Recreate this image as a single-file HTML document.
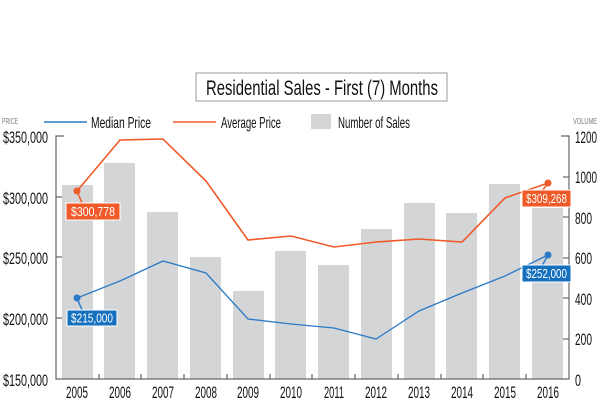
<!DOCTYPE html>
<html><head><style>
body{margin:0;background:#fff;}
svg text{font-family:"Liberation Sans",sans-serif;}
</style></head><body>
<svg width="600" height="400" viewBox="0 0 600 400" xmlns="http://www.w3.org/2000/svg">
<rect x="196" y="73" width="251" height="28" fill="#fff" stroke="#999" stroke-width="1"/>
<text x="206" y="95" font-size="21" fill="#111" textLength="232" lengthAdjust="spacingAndGlyphs">Residential Sales - First (7) Months</text>
<text x="2" y="124" font-size="8" fill="#777" textLength="16" lengthAdjust="spacingAndGlyphs">PRICE</text>
<text x="573" y="124" font-size="8" fill="#777" textLength="24" lengthAdjust="spacingAndGlyphs">VOLUME</text>
<line x1="44" y1="122" x2="87" y2="122" stroke="#2b7bc6" stroke-width="1.5"/>
<text x="91" y="128" font-size="16" fill="#111" textLength="60" lengthAdjust="spacingAndGlyphs">Median Price</text>
<line x1="173" y1="122" x2="216" y2="122" stroke="#f05a28" stroke-width="1.5"/>
<text x="221" y="128" font-size="16" fill="#111" textLength="60" lengthAdjust="spacingAndGlyphs">Average Price</text>
<rect x="311" y="114" width="20" height="15" fill="#d4d5d7"/>
<text x="338" y="128" font-size="16" fill="#111" textLength="72" lengthAdjust="spacingAndGlyphs">Number of Sales</text>
<g fill="#d4d5d7">
<rect x="62" y="185" width="31" height="194"/>
<rect x="104" y="163" width="31" height="216"/>
<rect x="147" y="212" width="31" height="167"/>
<rect x="190" y="257" width="31" height="122"/>
<rect x="233" y="291" width="31" height="88"/>
<rect x="275" y="251" width="31" height="128"/>
<rect x="318" y="265" width="31" height="114"/>
<rect x="361" y="229" width="31" height="150"/>
<rect x="404" y="203" width="31" height="176"/>
<rect x="446" y="213" width="31" height="166"/>
<rect x="489" y="184" width="31" height="195"/>
<rect x="532" y="208" width="31" height="171"/>
</g>
<g stroke="#666" stroke-width="1.2" fill="none">
<polyline points="64,136 56,136 56,379 569,379 569,136 561,136"/>
<line x1="56" y1="197" x2="62" y2="197"/><line x1="56" y1="257" x2="62" y2="257"/><line x1="56" y1="318" x2="62" y2="318"/>
<line x1="563" y1="177" x2="569" y2="177"/><line x1="563" y1="217" x2="569" y2="217"/><line x1="563" y1="258" x2="569" y2="258"/><line x1="563" y1="298" x2="569" y2="298"/><line x1="563" y1="339" x2="569" y2="339"/>
<line x1="99" y1="379" x2="99" y2="374"/><line x1="141" y1="379" x2="141" y2="374"/><line x1="184" y1="379" x2="184" y2="374"/><line x1="227" y1="379" x2="227" y2="374"/><line x1="270" y1="379" x2="270" y2="374"/><line x1="312" y1="379" x2="312" y2="374"/><line x1="355" y1="379" x2="355" y2="374"/><line x1="398" y1="379" x2="398" y2="374"/><line x1="441" y1="379" x2="441" y2="374"/><line x1="483" y1="379" x2="483" y2="374"/><line x1="526" y1="379" x2="526" y2="374"/>
</g>
<g font-size="17" fill="#111">
<text x="3" y="143" textLength="45" lengthAdjust="spacingAndGlyphs">$350,000</text>
<text x="3" y="204" textLength="45" lengthAdjust="spacingAndGlyphs">$300,000</text>
<text x="3" y="264" textLength="45" lengthAdjust="spacingAndGlyphs">$250,000</text>
<text x="3" y="325" textLength="45" lengthAdjust="spacingAndGlyphs">$200,000</text>
<text x="3" y="386" textLength="45" lengthAdjust="spacingAndGlyphs">$150,000</text>
</g>
<g font-size="17" fill="#111">
<text x="575" y="143" textLength="22" lengthAdjust="spacingAndGlyphs">1200</text>
<text x="575" y="183" textLength="22" lengthAdjust="spacingAndGlyphs">1000</text>
<text x="575" y="224" textLength="17" lengthAdjust="spacingAndGlyphs">800</text>
<text x="575" y="264" textLength="17" lengthAdjust="spacingAndGlyphs">600</text>
<text x="575" y="305" textLength="17" lengthAdjust="spacingAndGlyphs">400</text>
<text x="575" y="345" textLength="17" lengthAdjust="spacingAndGlyphs">200</text>
<text x="575" y="386" textLength="6" lengthAdjust="spacingAndGlyphs">0</text>
</g>
<g font-size="17" fill="#111">
<text x="66" y="398" textLength="22" lengthAdjust="spacingAndGlyphs">2005</text>
<text x="109" y="398" textLength="22" lengthAdjust="spacingAndGlyphs">2006</text>
<text x="152" y="398" textLength="22" lengthAdjust="spacingAndGlyphs">2007</text>
<text x="195" y="398" textLength="22" lengthAdjust="spacingAndGlyphs">2008</text>
<text x="237" y="398" textLength="22" lengthAdjust="spacingAndGlyphs">2009</text>
<text x="280" y="398" textLength="22" lengthAdjust="spacingAndGlyphs">2010</text>
<text x="324" y="398" textLength="20" lengthAdjust="spacingAndGlyphs">2011</text>
<text x="365" y="398" textLength="22" lengthAdjust="spacingAndGlyphs">2012</text>
<text x="408" y="398" textLength="22" lengthAdjust="spacingAndGlyphs">2013</text>
<text x="451" y="398" textLength="22" lengthAdjust="spacingAndGlyphs">2014</text>
<text x="494" y="398" textLength="22" lengthAdjust="spacingAndGlyphs">2015</text>
<text x="537" y="398" textLength="22" lengthAdjust="spacingAndGlyphs">2016</text>
</g>
<polyline fill="none" stroke="#f05a28" stroke-width="1.6" points="77,191 120,140 163,139 206,181 248,240 291,236 334,247 376,242 419,239 462,242 505,198 548,183"/>
<polyline fill="none" stroke="#2b7bc6" stroke-width="1.3" points="77,298 120,281 163,261 206,273 248,319 291,324 334,328 376,339 419,311 462,293 505,276 548,255"/>
<circle cx="77" cy="191" r="3.5" fill="#f05a28"/><circle cx="548" cy="183" r="3.5" fill="#f05a28"/>
<circle cx="77" cy="298" r="3.5" fill="#2b7bc6"/><circle cx="548" cy="255" r="3.5" fill="#2b7bc6"/>
<line x1="77" y1="191" x2="82" y2="203" stroke="#f05a28" stroke-width="1.5"/>
<rect x="66" y="203" width="54" height="17" fill="#f05a28" stroke="#fff"/>
<text x="71" y="216" font-size="13" fill="#fff" textLength="44" lengthAdjust="spacingAndGlyphs">$300,778</text>
<line x1="77" y1="298" x2="82" y2="310" stroke="#2b7bc6" stroke-width="1.5"/>
<rect x="67" y="310" width="50" height="16" fill="#1570be" stroke="#fff"/>
<text x="71" y="322.5" font-size="13" fill="#fff" textLength="42" lengthAdjust="spacingAndGlyphs">$215,000</text>
<line x1="548" y1="255" x2="542" y2="266" stroke="#2b7bc6" stroke-width="1.5"/>
<rect x="522" y="265" width="49" height="17" fill="#1570be" stroke="#fff"/>
<text x="526" y="278" font-size="13" fill="#fff" textLength="41" lengthAdjust="spacingAndGlyphs">$252,000</text>
<line x1="548" y1="183" x2="542" y2="191" stroke="#f05a28" stroke-width="1.5"/>
<rect x="522" y="190" width="49" height="17" fill="#f05a28" stroke="#fff"/>
<text x="526" y="203" font-size="13" fill="#fff" textLength="41" lengthAdjust="spacingAndGlyphs">$309,268</text>
</svg>
</body></html>
